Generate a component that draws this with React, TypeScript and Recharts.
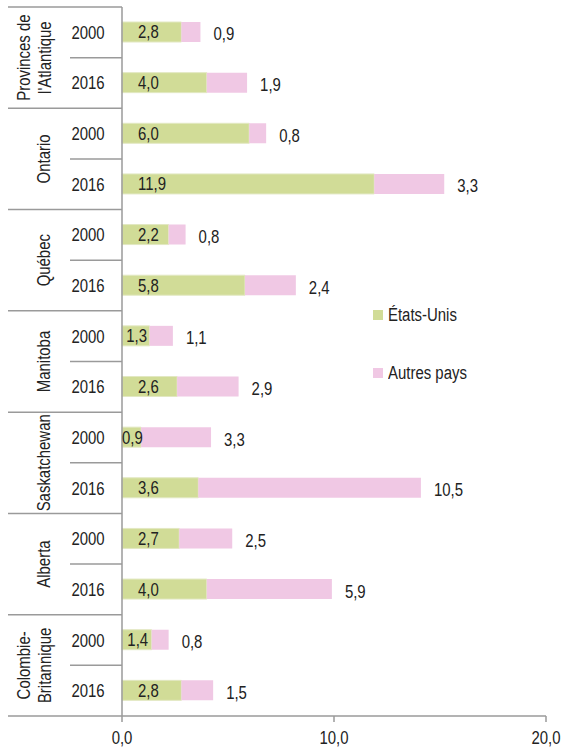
import React from 'react';
import { BarChart, Bar, XAxis, YAxis, LabelList } from 'recharts';

const provinces = [
  ['Provinces de', "l'Atlantique"],
  ['Ontario'],
  ['Québec'],
  ['Manitoba'],
  ['Saskatchewan'],
  ['Alberta'],
  ['Colombie-', 'Britannique'],
];
const years = ['2000', '2016'];
const usValues = [2.8, 4.0, 6.0, 11.9, 2.2, 5.8, 1.3, 2.6, 0.9, 3.6, 2.7, 4.0, 1.4, 2.8];
const otherValues = [0.9, 1.9, 0.8, 3.3, 0.8, 2.4, 1.1, 2.9, 3.3, 10.5, 2.5, 5.9, 0.8, 1.5];
const xTicks = [0, 10, 20];
const legendItems = ['États-Unis', 'Autres pays'];

const data = usValues.map((us, i) => ({
  key: `${Math.floor(i / 2)}-${years[i % 2]}`,
  year: years[i % 2],
  us,
  other: otherValues[i],
}));

const W = 563;
const H = 752;
const TOP = 7;
const BOTTOM_AXIS = 716;
const ROW = (BOTTOM_AXIS - TOP) / data.length;
const FONT = "'Liberation Sans', Arial, sans-serif";
const FS = 18;
const SX = 0.83;
const TEXT = '#222222';
const GRID = '#9a9a9a';
const GREEN = '#d1dc97';
const PINK = '#f0c8e4';

const fmt = (v: number) => v.toFixed(1).replace('.', ',');

const NText = ({ x, y, anchor = 'start', rotate = 0, children }: any) => (
  <text
    transform={`translate(${x}, ${y}) rotate(${rotate}) scale(${SX}, 1)`}
    x={0}
    y={0}
    dy="0.36em"
    textAnchor={anchor}
    fontSize={FS}
    fill={TEXT}
    fontFamily={FONT}
  >
    {children}
  </text>
);

const YTick = (props: any) => {
  const { y, payload } = props;
  const i = payload.index;
  const row = data[i];
  const isFirst = i % 2 === 0;
  const prov = provinces[Math.floor(i / 2)];
  const gy = y + ROW / 2;
  return (
    <g>
      {i === 0 && <line x1={8} x2={122} y1={y - ROW / 2} y2={y - ROW / 2} stroke={GRID} strokeWidth={1.5} />}
      <line x1={isFirst ? 70 : 8} x2={122} y1={gy} y2={gy} stroke={GRID} strokeWidth={1.5} />
      <NText x={88} y={y} anchor="middle">{row.year}</NText>
      {isFirst &&
        prov.map((line, k) => (
          <NText
            key={k}
            x={prov.length > 1 ? (k === 0 ? 24 : 45) : 44}
            y={gy}
            anchor="middle"
            rotate={-90}
          >
            {line}
          </NText>
        ))}
    </g>
  );
};

const XTick = (props: any) => {
  const { x, y, payload } = props;
  return <NText x={x} y={y + 14} anchor="middle">{fmt(payload.value)}</NText>;
};

const UsLabel = (props: any) => {
  const { x, y, width, height, value } = props;
  const tw = 23;
  const fits = width > tw + 20;
  const tx = fits ? x + 16 : x + width / 2 - tw / 2 + 2;
  return <NText x={tx} y={y + height / 2}>{fmt(value)}</NText>;
};

const OtherLabel = (props: any) => {
  const { x, y, width, height, value } = props;
  return <NText x={x + width + 13} y={y + height / 2 + 2}>{fmt(value)}</NText>;
};

const legendColors = [GREEN, PINK];

export default function App() {
  return (
    <div style={{ position: 'absolute', left: 0, top: 0, width: W, height: H, background: '#fff' }}>
      <BarChart
        width={W}
        height={H}
        data={data}
        layout="vertical"
        margin={{ top: TOP, right: 17, bottom: 6, left: 0 }}
        barSize={20}
      >
        <XAxis
          type="number"
          domain={[0, 20]}
          ticks={xTicks}
          height={30}
          axisLine={{ stroke: GRID, strokeWidth: 1.5 }}
          tickLine={{ stroke: GRID, strokeWidth: 1.5 }}
          tickSize={6}
          tick={<XTick />}
        />
        <YAxis
          type="category"
          dataKey="key"
          width={122}
          axisLine={{ stroke: GRID, strokeWidth: 1.5 }}
          tickLine={false}
          tick={<YTick />}
          interval={0}
        />
        <Bar dataKey="us" stackId="a" fill={GREEN} stroke="#e2e8c2" strokeWidth={1} isAnimationActive={false}>
          <LabelList dataKey="us" content={<UsLabel />} />
        </Bar>
        <Bar dataKey="other" stackId="a" fill={PINK} isAnimationActive={false}>
          <LabelList dataKey="other" content={<OtherLabel />} />
        </Bar>
      </BarChart>
      <div style={{ position: 'absolute', left: 373, top: 305, fontFamily: FONT, fontSize: FS, color: TEXT }}>
        {legendItems.map((t, k) => (
          <div key={k} style={{ display: 'flex', alignItems: 'center', height: 20, marginBottom: k === 0 ? 38 : 0, whiteSpace: 'nowrap' }}>
            <span style={{ display: 'inline-block', width: 10, height: 10, background: legendColors[k], marginRight: 5 }} />
            <span style={{ display: 'inline-block', transform: `scaleX(${SX})`, transformOrigin: 'left center' }}>{t}</span>
          </div>
        ))}
      </div>
    </div>
  );
}
